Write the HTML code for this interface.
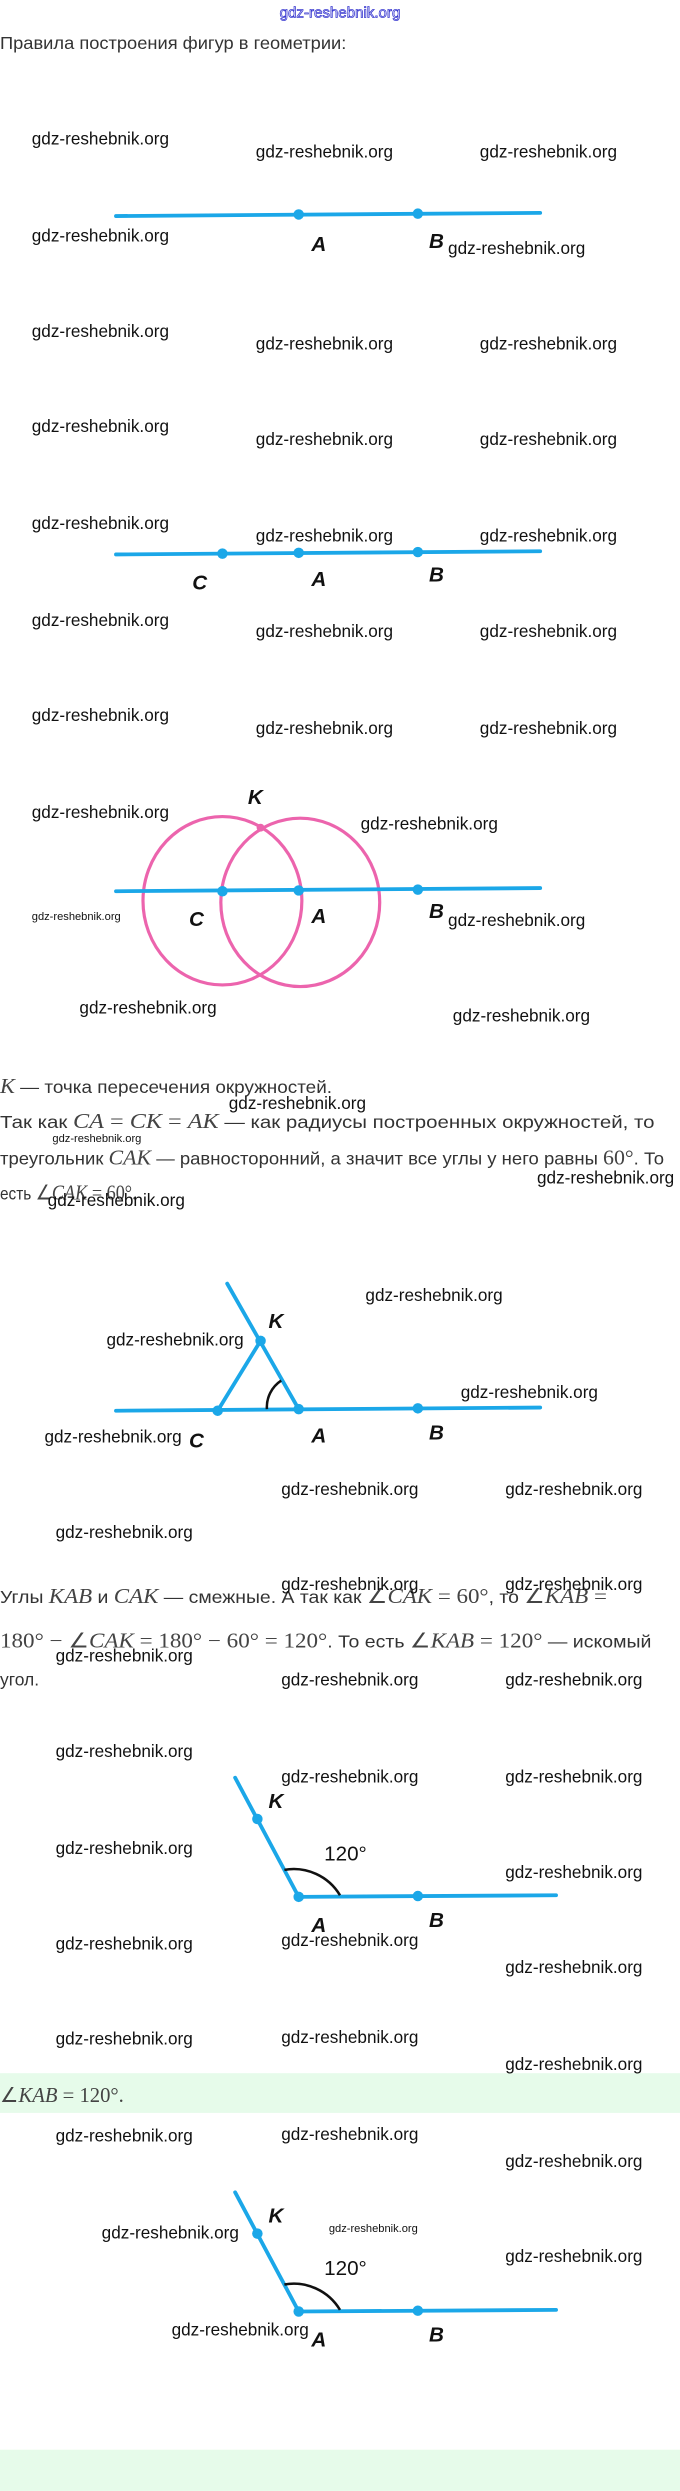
<!DOCTYPE html>
<html><head><meta charset="utf-8"><style>
html,body{margin:0;padding:0;background:#fff;width:680px;height:2491px;overflow:hidden}
svg{display:block}
.w{font-family:"Liberation Sans Narrow","Liberation Sans",sans-serif;font-size:10.8px;fill:#111}
.ws{font-family:"Liberation Sans Narrow","Liberation Sans",sans-serif;font-size:7px;fill:#111}
.t{font-family:"Liberation Sans","DejaVu Sans",sans-serif;font-size:11px;fill:#333}
.m{font-family:"Liberation Serif",serif;font-style:italic;font-size:13px;fill:#444}
.n{font-family:"Liberation Serif",serif;font-size:13px;fill:#444}
.L{font-family:"Liberation Sans Narrow","Liberation Sans",sans-serif;font-weight:bold;font-style:italic;font-size:13px;fill:#111}
.ln{stroke:#1ba7e8;stroke-width:2.4;stroke-linecap:round;fill:none}
.d{fill:#1ba7e8}
</style></head><body>
<svg width="680" height="2491" viewBox="0 0 428 1568" preserveAspectRatio="none" xmlns="http://www.w3.org/2000/svg">
<text x="214" y="11" text-anchor="middle" font-family="Liberation Sans Narrow,Liberation Sans,sans-serif" font-size="9.5" fill="#fff" stroke="#3a3ad0" stroke-width="0.5">gdz-reshebnik.org</text>
<text class="t" x="0" y="31" textLength="218" lengthAdjust="spacingAndGlyphs">Правила построения фигур в геометрии:</text>

<!-- fig1 -->
<line class="ln" x1="73" y1="136" x2="340" y2="134"/>
<circle class="d" cx="188" cy="135" r="3.3"/><circle class="d" cx="263" cy="134.5" r="3.3"/>
<text class="L" x="196" y="158">A</text><text class="L" x="270" y="156">B</text>
<text class="w" x="20" y="91">gdz-reshebnik.org</text><text class="w" x="161" y="99">gdz-reshebnik.org</text><text class="w" x="302" y="99">gdz-reshebnik.org</text>
<text class="w" x="20" y="152">gdz-reshebnik.org</text><text class="w" x="282" y="160">gdz-reshebnik.org</text>
<text class="w" x="20" y="212">gdz-reshebnik.org</text><text class="w" x="161" y="220">gdz-reshebnik.org</text><text class="w" x="302" y="220">gdz-reshebnik.org</text>
<text class="w" x="20" y="272">gdz-reshebnik.org</text><text class="w" x="161" y="280">gdz-reshebnik.org</text><text class="w" x="302" y="280">gdz-reshebnik.org</text>
<text class="w" x="20" y="333">gdz-reshebnik.org</text><text class="w" x="161" y="341">gdz-reshebnik.org</text><text class="w" x="302" y="341">gdz-reshebnik.org</text>

<!-- fig2 -->
<line class="ln" x1="73" y1="349" x2="340" y2="347"/>
<circle class="d" cx="140" cy="348.5" r="3.3"/><circle class="d" cx="188" cy="348" r="3.3"/><circle class="d" cx="263" cy="347.5" r="3.3"/>
<text class="L" x="121" y="371">C</text><text class="L" x="196" y="369">A</text><text class="L" x="270" y="366">B</text>
<text class="w" x="20" y="394">gdz-reshebnik.org</text><text class="w" x="161" y="401">gdz-reshebnik.org</text><text class="w" x="302" y="401">gdz-reshebnik.org</text>
<text class="w" x="20" y="454">gdz-reshebnik.org</text><text class="w" x="161" y="462">gdz-reshebnik.org</text><text class="w" x="302" y="462">gdz-reshebnik.org</text>

<!-- fig3 -->
<ellipse cx="140" cy="567" rx="50" ry="53" fill="none" stroke="#ec64ad" stroke-width="2"/>
<ellipse cx="189" cy="568" rx="50" ry="53" fill="none" stroke="#ec64ad" stroke-width="2"/>
<line class="ln" x1="73" y1="561" x2="340" y2="559"/>
<circle fill="#ec64ad" cx="164" cy="521" r="2.5"/>
<circle class="d" cx="140" cy="561" r="3.3"/><circle class="d" cx="188" cy="560.5" r="3.3"/><circle class="d" cx="263" cy="560" r="3.3"/>
<text class="L" x="156" y="506">K</text>
<text class="L" x="119" y="583">C</text><text class="L" x="196" y="581">A</text><text class="L" x="270" y="578">B</text>
<text class="w" x="20" y="515">gdz-reshebnik.org</text><text class="w" x="227" y="522">gdz-reshebnik.org</text>
<text class="ws" x="20" y="579">gdz-reshebnik.org</text><text class="w" x="282" y="583">gdz-reshebnik.org</text>
<text class="w" x="50" y="638">gdz-reshebnik.org</text><text class="w" x="285" y="643">gdz-reshebnik.org</text>

<text class="t" x="0" y="688" textLength="209" lengthAdjust="spacingAndGlyphs"><tspan class="m">K</tspan> — точка пересечения окружностей.</text>
<text class="t" x="0" y="710" textLength="412" lengthAdjust="spacingAndGlyphs">Так как <tspan class="m">CA</tspan><tspan class="n"> = </tspan><tspan class="m">CK</tspan><tspan class="n"> = </tspan><tspan class="m">AK</tspan> — как радиусы построенных окружностей, то</text>
<text class="t" x="0" y="733" textLength="418" lengthAdjust="spacingAndGlyphs">треугольник <tspan class="m">CAK</tspan> — равносторонний, а значит все углы у него равны <tspan class="n">60°</tspan>. То</text>
<text class="t" x="0" y="755" textLength="86" lengthAdjust="spacingAndGlyphs">есть <tspan class="n">∠</tspan><tspan class="m">CAK</tspan><tspan class="n"> = 60°.</tspan></text>
<text class="w" x="144" y="698">gdz-reshebnik.org</text><text class="ws" x="33" y="719">gdz-reshebnik.org</text>
<text class="w" x="338" y="745">gdz-reshebnik.org</text><text class="w" x="30" y="759">gdz-reshebnik.org</text><text class="w" x="230" y="819">gdz-reshebnik.org</text>

<!-- fig4 -->
<line class="ln" x1="73" y1="888" x2="340" y2="886"/>
<line class="ln" x1="143" y1="808" x2="188" y2="887"/>
<line class="ln" x1="137" y1="888" x2="164" y2="844"/>
<path d="M177 869 A20 20 0 0 0 168 887" fill="none" stroke="#111" stroke-width="1.6"/>
<circle class="d" cx="137" cy="888" r="3.3"/><circle class="d" cx="164" cy="844" r="3.3"/><circle class="d" cx="188" cy="887" r="3.3"/><circle class="d" cx="263" cy="886.5" r="3.3"/>
<text class="L" x="169" y="836">K</text><text class="L" x="119" y="911">C</text><text class="L" x="196" y="908">A</text><text class="L" x="270" y="906">B</text>
<text class="w" x="67" y="847">gdz-reshebnik.org</text><text class="w" x="290" y="880">gdz-reshebnik.org</text><text class="w" x="28" y="908">gdz-reshebnik.org</text>
<text class="w" x="177" y="941">gdz-reshebnik.org</text><text class="w" x="318" y="941">gdz-reshebnik.org</text><text class="w" x="35" y="968">gdz-reshebnik.org</text>

<text class="t" x="0" y="1009" textLength="382" lengthAdjust="spacingAndGlyphs">Углы <tspan class="m">KAB</tspan> и <tspan class="m">CAK</tspan> — смежные. А так как <tspan class="n">∠</tspan><tspan class="m">CAK</tspan><tspan class="n"> = 60°</tspan>, то <tspan class="n">∠</tspan><tspan class="m">KAB</tspan><tspan class="n"> =</tspan></text>
<text class="t" x="0" y="1037" textLength="410" lengthAdjust="spacingAndGlyphs"><tspan class="n">180° − ∠</tspan><tspan class="m">CAK</tspan><tspan class="n"> = 180° − 60° = 120°</tspan>. То есть <tspan class="n">∠</tspan><tspan class="m">KAB</tspan><tspan class="n"> = 120°</tspan> — искомый</text>
<text class="t" x="0" y="1061">угол.</text>
<text class="w" x="177" y="1001">gdz-reshebnik.org</text><text class="w" x="318" y="1001">gdz-reshebnik.org</text>
<text class="w" x="35" y="1046">gdz-reshebnik.org</text><text class="w" x="177" y="1061">gdz-reshebnik.org</text><text class="w" x="318" y="1061">gdz-reshebnik.org</text>

<!-- fig5 -->
<line class="ln" x1="148" y1="1119" x2="188" y2="1194"/>
<line class="ln" x1="188" y1="1194" x2="350" y2="1193"/>
<path d="M179 1177 A 34 34 0 0 1 214 1193" fill="none" stroke="#111" stroke-width="1.6"/>
<circle class="d" cx="162" cy="1145" r="3.3"/><circle class="d" cx="188" cy="1194" r="3.3"/><circle class="d" cx="263" cy="1193.5" r="3.3"/>
<text class="L" x="169" y="1138">K</text><text class="L" x="196" y="1216">A</text><text class="L" x="270" y="1213">B</text>
<text x="204" y="1171" font-family="Liberation Sans Narrow,Liberation Sans,sans-serif" font-size="13" fill="#111">120°</text>
<text class="w" x="35" y="1106">gdz-reshebnik.org</text><text class="w" x="177" y="1122">gdz-reshebnik.org</text><text class="w" x="318" y="1122">gdz-reshebnik.org</text>
<text class="w" x="35" y="1167">gdz-reshebnik.org</text><text class="w" x="318" y="1182">gdz-reshebnik.org</text>
<text class="w" x="35" y="1227">gdz-reshebnik.org</text><text class="w" x="177" y="1225">gdz-reshebnik.org</text>
<text class="w" x="35" y="1287">gdz-reshebnik.org</text><text class="w" x="177" y="1286">gdz-reshebnik.org</text><text class="w" x="318" y="1242">gdz-reshebnik.org</text>

<rect x="0" y="1305" width="428" height="25" fill="#e6fbea"/>
<text class="w" x="318" y="1303">gdz-reshebnik.org</text>
<text x="0" y="1323"><tspan class="n">∠</tspan><tspan class="m">KAB</tspan><tspan class="n"> = 120°.</tspan></text>

<!-- fig6 -->
<line class="ln" x1="148" y1="1380" x2="188" y2="1455"/>
<line class="ln" x1="188" y1="1455" x2="350" y2="1454"/>
<path d="M179 1438 A 34 34 0 0 1 214 1454" fill="none" stroke="#111" stroke-width="1.6"/>
<circle class="d" cx="162" cy="1406" r="3.3"/><circle class="d" cx="188" cy="1455" r="3.3"/><circle class="d" cx="263" cy="1454.5" r="3.3"/>
<text class="L" x="169" y="1399">K</text><text class="L" x="196" y="1477">A</text><text class="L" x="270" y="1474">B</text>
<text x="204" y="1432" font-family="Liberation Sans Narrow,Liberation Sans,sans-serif" font-size="13" fill="#111">120°</text>
<text class="w" x="35" y="1348">gdz-reshebnik.org</text><text class="w" x="177" y="1347">gdz-reshebnik.org</text><text class="w" x="318" y="1364">gdz-reshebnik.org</text>
<text class="w" x="64" y="1409">gdz-reshebnik.org</text><text class="ws" x="207" y="1405">gdz-reshebnik.org</text><text class="w" x="318" y="1424">gdz-reshebnik.org</text>
<text class="w" x="108" y="1470">gdz-reshebnik.org</text>

<rect x="0" y="1542" width="428" height="26" fill="#e6fbea"/>
</svg>
</body></html>
